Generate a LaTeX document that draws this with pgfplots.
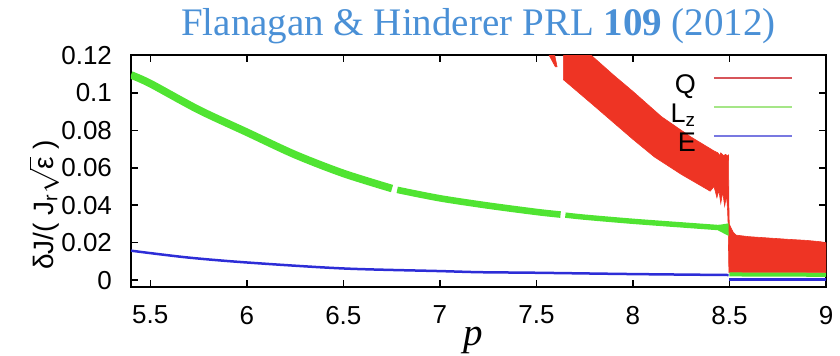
\documentclass[border=0pt]{standalone}
\usepackage{pgfplots}
\pgfplotsset{compat=1.18}
\usepackage{fontspec}
\setmainfont{Liberation Serif}
\setsansfont{Liberation Sans}
\definecolor{qred}{RGB}{238,52,36}
\definecolor{lzgreen}{RGB}{80,228,50}
\definecolor{eblue}{RGB}{45,45,215}
\definecolor{titleblue}{RGB}{74,144,214}
\definecolor{legred}{RGB}{215,85,90}
\definecolor{leggreen}{RGB}{165,230,135}
\definecolor{legblue}{RGB}{120,120,225}
\begin{document}
\begin{tikzpicture}
\useasboundingbox (-65.5pt,-34.5pt) rectangle (354.5pt,143.5pt);
\begin{axis}[
  at={(0pt,0pt)}, anchor=south west,
  scale only axis, width=347.5pt, height=115.75pt,
  xmin=5.4, xmax=9, ymin=-0.0037, ymax=0.12,
  xtick={5.5,6,6.5,7,7.5,8,8.5,9},
  ytick={0,0.02,0.04,0.06,0.08,0.1,0.12},
  scaled y ticks=false,
  /pgf/number format/assume math mode=true,
  yticklabel style={/pgf/number format/fixed, /pgf/number format/precision=2, xshift=-6pt},
  xticklabel style={yshift=-6pt},
  tick label style={font=\sffamily\fontsize{13}{15}\selectfont},
  tick align=inside, major tick length=3.5pt,
  axis line style={line width=1pt},
  tick style={line width=0.8pt, black},
  every axis title shift=0pt,
  title={Flanagan \& Hinderer PRL \textbf{109} (2012)},
  title style={font=\fontsize{19.5}{22}\selectfont, text=titleblue, at={(axis description cs:0.5,1)}, anchor=base, yshift=9.75pt, inner sep=0pt},
  xlabel={\textit{p}},
  xlabel style={font=\fontsize{19.5}{22}\selectfont, at={(axis description cs:0.492,0)}, anchor=base, yshift=-29.5pt, inner sep=0pt},
  legend style={draw=none, fill=none, at={(axis description cs:0.9525,0.925)}, anchor=north east, inner sep=0pt, outer sep=0pt, font=\sffamily\fontsize{13.5}{15}\selectfont, row sep=0pt, nodes={inner sep=0pt, text height=10.3pt, text depth=4.2pt}, /tikz/every odd column/.append style={column sep=8.5pt}},
  legend plot pos=right, legend cell align=right,
  legend image code/.code={\draw[#1] (0pt,4.8pt) -- (39pt,4.8pt);},
]
\addlegendimage{legred, line width=0.8pt}
\addlegendentry{Q}
\addlegendimage{leggreen, line width=1pt}
\addlegendentry{L\textsubscript{z}}
\addlegendimage{legblue, line width=0.8pt}
\addlegendentry{E}

% Q (red band)
\addplot[fill=qred, draw=qred, line width=0.3pt, forget plot] coordinates {
(7.540,0.125) (7.585,0.125) (7.607,0.1140) (7.598,0.1140)} -- cycle;
\addplot[fill=qred, draw=qred, line width=0.3pt, forget plot] coordinates {
(7.640,0.107) (7.640,0.130) (7.675,0.130) (7.782,0.1203) (7.900,0.1095)
(8.000,0.1008) (8.148,0.0873) (8.300,0.0765) (8.420,0.0690) (8.440,0.0680)
(8.450,0.0665) (8.455,0.0680) (8.470,0.0665) (8.480,0.0672) (8.490,0.0662)
(8.495,0.0668) (8.497,0.0400) (8.499,0.0300) (8.505,0.0285) (8.520,0.0255)
(8.535,0.0240) (8.600,0.0232) (8.700,0.0225) (8.800,0.0218) (8.900,0.0212)
(8.970,0.0205) (9.000,0.0200) (9.000,0.0040) (8.497,0.0040) (8.493,0.0300)
(8.490,0.0375) (8.485,0.0450) (8.475,0.0395) (8.465,0.0470) (8.455,0.0410)
(8.445,0.0480) (8.435,0.0440) (8.420,0.0500) (8.400,0.0475) (8.392,0.0480)
(8.250,0.0565) (8.111,0.0658) (8.000,0.0752) (7.800,0.0930) (7.641,0.1070)} -- cycle;

% Lz (green)
\addplot[lzgreen, line width=3.8pt, smooth, forget plot] coordinates {
(5.40,0.1096) (5.50,0.1050) (5.75,0.0910) (6.00,0.0790) (6.25,0.0670)
(6.50,0.0570) (6.752,0.0489)};
\addplot[lzgreen, line width=3.3pt, smooth, forget plot] coordinates {
(6.779,0.0482) (7.00,0.0437) (7.25,0.0398) (7.50,0.0364) (7.625,0.0350)};
\addplot[lzgreen, line width=2.7pt, smooth, forget plot] coordinates {
(7.65,0.0347) (7.75,0.0336) (8.00,0.0314) (8.25,0.0295) (8.45,0.0280)};
\addplot[fill=lzgreen, draw=none, forget plot] coordinates {
(8.44,0.0294) (8.495,0.0303) (8.495,0.0236) (8.44,0.0266)} -- cycle;
\addplot[lzgreen, line width=2pt, forget plot] coordinates {(8.5,0.0030) (9,0.0028)};

% E (blue)
\addplot[eblue, line width=1.25pt, smooth, forget plot] coordinates {
(5.40,0.0157) (5.69,0.0121) (6.00,0.0094) (6.50,0.0062) (7.00,0.0048)
(7.21,0.0042) (7.50,0.0039) (8.00,0.0032) (8.495,0.0027)};
\addplot[eblue, line width=1.7pt, forget plot] coordinates {(8.5,0.0002) (9,0.0002)};
\end{axis}
\node[rotate=90, anchor=center, inner sep=0pt, font=\sffamily\fontsize{14}{16}\selectfont] at (-43.5pt,41pt) {δJ/( J\textsubscript{r}$\sqrt{\mbox{ε}}$ )};
\end{tikzpicture}
\end{document}
